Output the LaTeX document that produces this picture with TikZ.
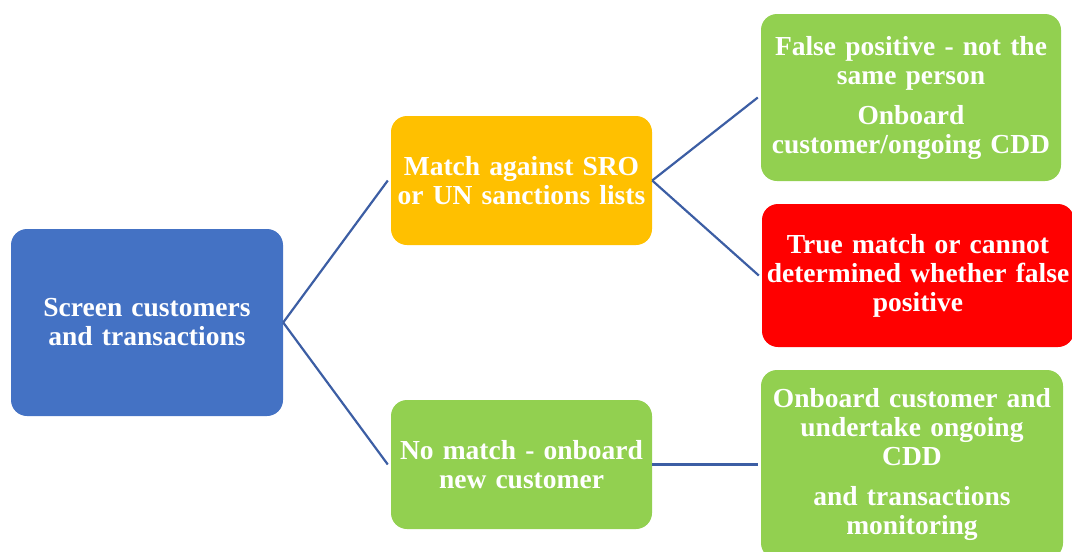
\documentclass[tikz,border=0pt]{standalone}
\usepackage{fontspec}
\setmainfont{Liberation Serif}
\definecolor{cblue}{RGB}{68,114,196}
\definecolor{corange}{RGB}{255,192,0}
\definecolor{cgreen}{RGB}{146,208,80}
\definecolor{cred}{RGB}{255,0,0}
\definecolor{cline}{RGB}{60,94,164}
\begin{document}
\begin{tikzpicture}[x=1pt,y=-1pt,
  box/.style={rectangle, rounded corners=16pt, inner sep=0pt, align=center,
    text=white, font=\fontsize{27.5}{29}\selectfont\bfseries},
  conn/.style={draw=cline, line width=2.2pt}]
\useasboundingbox (0,0) rectangle (1072,552);
\node[box, fill=cblue, text width=272pt, minimum height=187pt] (screen) at (147,322.5)
  {\rule{0pt}{0pt}Screen customers\\and transactions};
\node[box, fill=corange, text width=261pt, minimum height=129pt] (match) at (521.5,180.5)
  {Match against SRO\\or UN sanctions lists};
\node[box, fill=cgreen, text width=261pt, minimum height=129pt] (nomatch) at (521.5,464.5)
  {No match - onboard\\new customer};
\node[box, fill=cgreen, text width=300pt, minimum height=167pt] (falsepos) at (911,97.5)
  {False positive - not the\\same person\\[11pt]Onboard\\customer/ongoing CDD};
\node[box, fill=cred, text width=312pt, minimum height=143pt] (truematch) at (918,275.5)
  {True match or cannot\\determined whether false\\positive};
\node[box, fill=cgreen, text width=302pt, minimum height=189pt] (onboard) at (912,464.5)
  {Onboard customer and\\undertake ongoing\\CDD\\[11pt]and transactions\\monitoring};
\draw[conn] (screen.east) -- ([xshift=-3pt]match.west);
\draw[conn] (screen.east) -- ([xshift=-3pt]nomatch.west);
\draw[conn] (match.east) -- ([xshift=-3pt]falsepos.west);
\draw[conn] (match.east) -- ([xshift=-3pt]truematch.west);
\draw[conn] (nomatch.east) -- ([xshift=-3pt]onboard.west);
\end{tikzpicture}
\end{document}
